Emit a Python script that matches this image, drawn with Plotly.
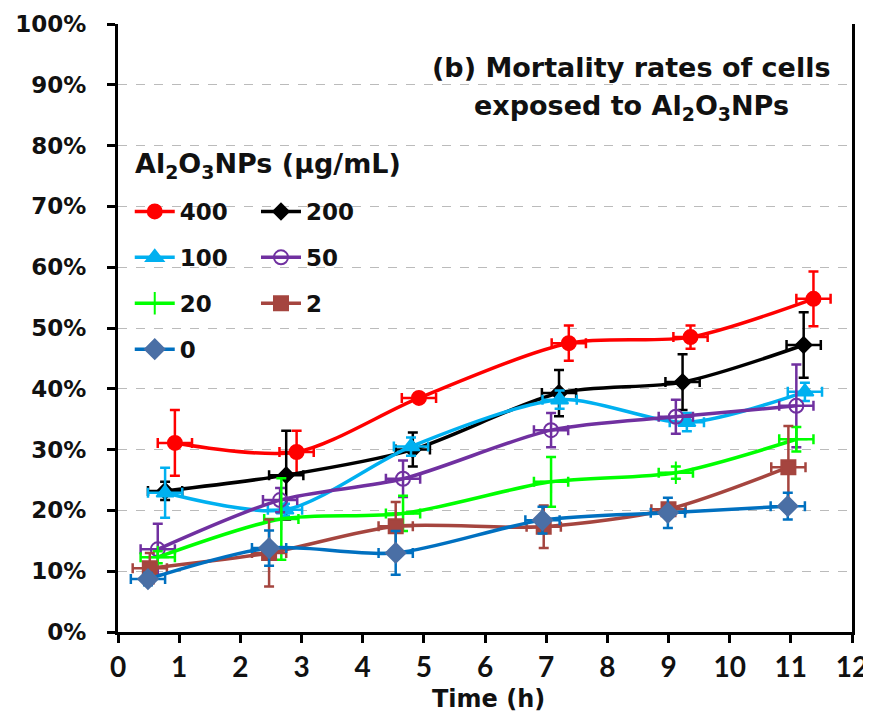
import numpy as np
import plotly.graph_objects as go

# time positions (h) as plotted, mortality (%) and error bars (%)
x_400 = [0.93, 2.92, 4.92, 7.37, 9.36, 11.37]
y_400 = [31.1, 29.6, 38.5, 47.5, 48.5, 54.8]
e_400 = [5.4, 3.5, 0.6, 2.9, 1.9, 4.5]

x_200 = [0.77, 2.75, 4.82, 7.21, 9.23, 11.21]
y_200 = [23.2, 25.8, 30.0, 39.3, 41.1, 47.2]
e_200 = [1.5, 7.3, 2.8, 3.8, 4.6, 5.4]

x_100 = [0.77, 2.73, 4.79, 7.22, 9.30, 11.23]
y_100 = [22.9, 20.1, 30.5, 38.2, 34.5, 39.5]
e_100 = [4.1, 1.0, 1.5, 1.5, 1.5, 1.5]

x_50 = [0.65, 2.65, 4.66, 7.08, 9.12, 11.09]
y_50 = [13.6, 21.7, 25.2, 33.2, 35.4, 37.2]
e_50 = [4.2, 2.0, 3.0, 2.8, 2.8, 6.8]

x_20 = [0.65, 2.67, 4.66, 7.08, 9.12, 11.09]
y_20 = [12.3, 18.6, 19.5, 24.7, 26.2, 31.7]
e_20 = [1.0, 6.7, 2.9, 4.1, 1.0, 2.0]

x_2 = [0.52, 2.47, 4.54, 6.96, 9.00, 10.96]
y_2 = [10.5, 13.0, 17.4, 17.3, 20.2, 27.1]
e_2 = [2.5, 5.5, 4.0, 3.5, 0.6, 6.8]

x_0 = [0.49, 2.47, 4.54, 6.94, 8.99, 10.95]
y_0 = [8.7, 13.8, 13.0, 18.4, 19.6, 20.7]
e_0 = [1.0, 2.9, 3.6, 2.2, 2.5, 2.2]

time_err = 0.28  # horizontal error bar half-width (h)

series = [
    # name, x, y, err, line colour, marker colour, symbol, size, legend
    ("400", x_400, y_400, e_400, "#FF0000", "#FF0000", "circle", 14, "legend"),
    ("200", x_200, y_200, e_200, "#000000", "#000000", "diamond", 12, "legend2"),
    ("100", x_100, y_100, e_100, "#00B0F0", "#00B0F0", "triangle-up", 15, "legend"),
    ("50", x_50, y_50, e_50, "#7030A0", "#7030A0", "circle-open", 14, "legend2"),
    ("20", x_20, y_20, e_20, "#00FF00", "#00FF00", "cross-thin-open", 16, "legend"),
    ("2", x_2, y_2, e_2, "#A5453F", "#A5453F", "square", 14, "legend2"),
    ("0", x_0, y_0, e_0, "#0070C0", "#4A6FA5", "diamond", 15, "legend"),
]

BOLD = dict(color="#111111", weight="bold")

fig = go.Figure()

for name, xs, ys, es, lc, mc, sym, size, leg in series:
    fig.add_trace(go.Scatter(
        x=xs, y=np.array(ys) / 100,
        name=name, legend=leg, legendgroup=name,
        mode="lines+markers",
        line=dict(color=lc, width=3.5, shape="spline", smoothing=0.8),
        marker=dict(symbol=sym, size=size, color=mc,
                    line=dict(color=mc, width=2)),
        error_y=dict(type="data", array=np.array(es) / 100, color=lc,
                     thickness=2.5, width=5),
        error_x=dict(type="constant", value=time_err, color=lc,
                     thickness=2.5, width=5),
    ))

leg_style = dict(
    font=dict(family="DejaVu Sans", size=23, **BOLD),
    bgcolor="rgba(0,0,0,0)", traceorder="grouped", tracegroupgap=13,
    yanchor="top", xanchor="left", itemwidth=40,
)

# the page body adds 8px of offset, so margins are shifted to compensate
fig.update_layout(
    width=871, height=713,
    margin=dict(l=110, r=27, t=16, b=89),
    plot_bgcolor="white", paper_bgcolor="white",
    legend=dict(x=0.016, y=0.727, **leg_style),
    legend2=dict(x=0.188, y=0.727, **leg_style),
)

fig.update_xaxes(
    range=[0, 12], dtick=1, tick0=0, automargin=False,
    showline=True, linecolor="black", linewidth=3,
    ticks="outside", ticklen=8, tickwidth=3, tickcolor="black",
    showgrid=False, zeroline=False,
    tickfont=dict(family="Lato", size=28, **BOLD),
)
fig.update_yaxes(
    range=[0, 1], dtick=0.1, tickformat=".0%", automargin=False,
    showline=True, linecolor="black", linewidth=3, mirror=True,
    ticks="outside", ticklen=8, tickwidth=3, tickcolor="black",
    ticklabelstandoff=16,
    showgrid=True, gridcolor="#BBBBBB", griddash="dash", gridwidth=1,
    zeroline=False,
    tickfont=dict(family="DejaVu Sans", size=23, **BOLD),
)

fig.add_annotation(
    text="(b) Mortality rates of cells",
    xref="paper", yref="paper", x=0.70, y=0.929, xanchor="center",
    yanchor="middle", showarrow=False,
    font=dict(family="DejaVu Sans", size=27, **BOLD),
)
fig.add_annotation(
    text="exposed to Al<sub>2</sub>O<sub>3</sub>NPs",
    xref="paper", yref="paper", x=0.70, y=0.862, xanchor="center",
    yanchor="middle", showarrow=False,
    font=dict(family="DejaVu Sans", size=27, **BOLD),
)
fig.add_annotation(
    text="Al<sub>2</sub>O<sub>3</sub>NPs (µg/mL)",
    xref="paper", yref="paper", x=0.02, y=0.768, xanchor="left",
    yanchor="middle", showarrow=False,
    font=dict(family="DejaVu Sans", size=27, **BOLD),
)
fig.add_annotation(
    text="Time (h)",
    xref="paper", yref="paper", x=0.505, y=-0.11, xanchor="center",
    yanchor="middle", showarrow=False,
    font=dict(family="DejaVu Sans", size=24, **BOLD),
)

fig.write_html("out.html")
